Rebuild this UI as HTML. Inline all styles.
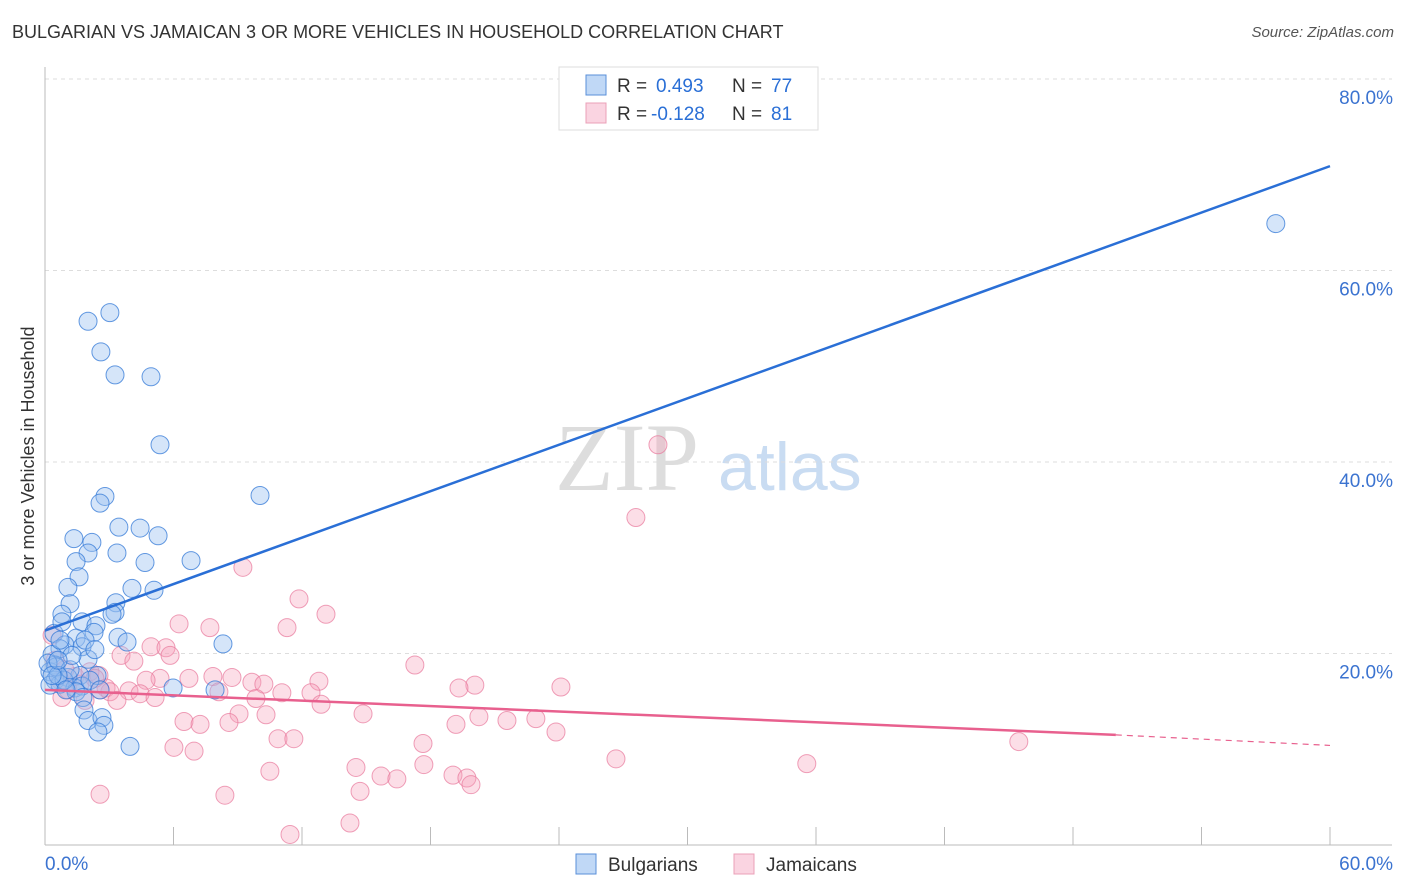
<!DOCTYPE html>
<html><head><meta charset="utf-8">
<style>
body{margin:0;background:#fff;font-family:"Liberation Sans",sans-serif;}
#wrap{position:relative;width:1406px;height:892px;overflow:hidden;}
.t{position:absolute;white-space:nowrap;}
</style></head>
<body>
<div id="wrap">
<div class="t" style="left:12px;top:22px;font-size:18px;color:#333;">BULGARIAN VS JAMAICAN 3 OR MORE VEHICLES IN HOUSEHOLD CORRELATION CHART</div>
<div class="t" style="right:12px;top:24px;font-size:15px;color:#555;font-style:italic;">Source: ZipAtlas.com</div>
<svg id="chart" width="1406" height="892" style="position:absolute;left:0;top:0"></svg>
</div>
<script>
const xTickLabels=["0.0%","60.0%"];
const yTickValues=[20,40,60,80];
const blueX=[3.03,2.01,2.61,3.27,4.95,5.37,10.04,2.80,2.57,3.45,4.44,5.28,1.35,2.19,3.36,2.01,4.67,6.82,1.45,1.59,1.07,4.06,5.09,1.17,3.31,3.27,0.79,3.13,1.73,2.38,0.42,2.29,3.41,1.45,0.93,3.83,8.31,0.70,1.73,2.01,0.33,0.47,0.23,2.43,1.63,1.07,0.47,0.70,1.40,1.73,5.98,7.94,1.45,1.77,0.23,0.51,0.14,1.82,2.01,2.66,2.75,2.47,3.97,57.47,0.89,1.17,0.61,0.98,2.10,1.26,1.87,0.79,2.57,0.33,0.70,2.33,0.61];
const blueY=[55.6,54.7,51.5,49.1,48.9,41.8,36.5,36.4,35.7,33.2,33.1,32.3,32.0,31.6,30.5,30.5,29.5,29.7,29.6,28.0,26.9,26.8,26.6,25.2,25.3,24.3,24.1,24.1,23.3,22.9,22.1,22.2,21.7,21.6,20.9,21.2,21.0,20.5,20.7,19.4,19.9,18.8,18.1,17.7,17.7,17.5,17.2,16.8,16.4,16.6,16.4,16.2,16.0,15.4,16.7,18.6,19.0,14.1,13.0,13.3,12.5,11.8,10.3,64.9,17.2,18.3,17.7,16.2,17.2,19.8,21.4,23.3,16.2,17.7,21.4,20.4,19.3];
const pinkX=[28.62,27.59,9.24,11.86,13.12,6.26,7.70,11.30,4.95,5.65,5.84,3.55,4.15,17.27,2.52,7.84,6.72,5.37,4.72,8.73,9.66,10.22,12.79,20.07,19.33,24.09,2.85,3.92,4.44,3.03,8.12,5.14,11.06,12.42,9.85,0.79,3.36,12.89,14.85,9.06,10.32,6.49,7.24,8.59,20.26,21.57,22.92,19.19,23.86,10.88,11.62,17.65,6.02,6.96,26.66,35.57,10.50,14.52,15.69,16.43,17.69,19.05,19.70,19.89,14.71,2.57,8.40,11.44,14.24,45.47,0.33,0.70,1.40,2.10,1.63,2.33,0.47,1.07,1.87,0.93,2.57];
const pinkY=[41.8,34.2,29.0,25.7,24.1,23.1,22.7,22.7,20.7,20.6,19.8,19.8,19.2,18.8,17.7,17.6,17.4,17.4,17.2,17.5,17.0,16.8,17.1,16.7,16.4,16.5,16.4,16.1,15.8,16.0,16.0,15.4,15.9,15.9,15.3,15.4,15.1,14.7,13.7,13.7,13.6,12.9,12.6,12.8,13.4,13.0,13.2,12.6,11.8,11.1,11.1,10.6,10.2,9.8,9.0,8.5,7.7,8.1,7.2,6.9,8.4,7.3,7.0,6.3,5.6,5.3,5.2,1.1,2.3,10.8,21.9,17.2,17.6,18.1,16.8,17.4,19.3,16.2,15.1,18.3,16.2];
const blueLine=[22.4,70.9];
const pinkLine=[16.2,11.5,10.4];

const NS="http://www.w3.org/2000/svg";
const svg=document.getElementById('chart');
const X0=45,X1=1330,Y0=845,PY=(845-79)/80;
const sx=v=>X0+v*(X1-X0)/60;
const sy=v=>Y0-v*PY;
function mk(t,a){const e=document.createElementNS(NS,t);for(const k in a)e.setAttribute(k,a[k]);svg.appendChild(e);return e;}
// watermark
let w=mk('text',{x:555,y:490,'font-size':96,fill:'#ddd','font-family':'Liberation Serif, serif'});w.textContent='ZIP';


w=mk('text',{x:718,y:490,'font-size':68,fill:'#c9dcf2','font-family':'Liberation Sans, sans-serif'});w.textContent='atlas';


// gridlines & y labels
yTickValues.forEach(v=>{
 let g=mk('line',{x1:X0,x2:1392,y1:sy(v),y2:sy(v),stroke:'#ddd','stroke-dasharray':'4,4'});
 
 
 let t=mk('text',{x:1393,y:sy(v)+25,'text-anchor':'end','font-size':19,fill:'#3b73d0'});t.textContent=v.toFixed(1)+'%';
 
 
});
let gt=mk('line',{x1:X0,x2:1392,y1:79,y2:79,stroke:'#ddd','stroke-dasharray':'4,4'});


// axes
let ax=mk('line',{x1:X0,x2:1392,y1:Y0,y2:Y0,stroke:'#bbb'});


ax=mk('line',{x1:X0,x2:X0,y1:67,y2:Y0,stroke:'#bbb'});


for(let i=0;i<=10;i++){let tk=mk('line',{x1:sx(i*6),x2:sx(i*6),y1:Y0,y2:Y0-18,stroke:'#bbb'});
 
 }
let xl=mk('text',{x:45,y:870,'font-size':19,fill:'#3b73d0'});xl.textContent=xTickLabels[0];


xl=mk('text',{x:1393,y:870,'font-size':19,fill:'#3b73d0','text-anchor':'end'});xl.textContent=xTickLabels[1];


let yt=mk('text',{x:34,y:456,'font-size':18,fill:'#333','text-anchor':'middle',transform:'rotate(-90 34 456)'});yt.textContent='3 or more Vehicles in Household';


// points
pinkX.forEach((x,i)=>{let c=mk('circle',{cx:sx(x),cy:sy(pinkY[i]),r:9,fill:'rgba(245,160,185,0.35)',stroke:'rgba(232,120,155,0.7)','stroke-width':1});
 
 });
blueX.forEach((x,i)=>{let c=mk('circle',{cx:sx(x),cy:sy(blueY[i]),r:9,fill:'rgba(150,190,240,0.4)',stroke:'rgba(50,120,215,0.75)','stroke-width':1});
 
 });
// trend lines
let l=mk('line',{x1:sx(0),y1:sy(blueLine[0]),x2:sx(60),y2:sy(blueLine[1]),stroke:'#2a6fd6','stroke-width':2.5});


l=mk('line',{x1:sx(0),y1:sy(pinkLine[0]),x2:sx(50),y2:sy(pinkLine[1]),stroke:'#e8608e','stroke-width':2.5});


l=mk('line',{x1:sx(50),y1:sy(pinkLine[1]),x2:sx(60),y2:sy(pinkLine[2]),stroke:'#e8608e','stroke-width':1.2,'stroke-dasharray':'6,5'});


// legend box
let lb=mk('rect',{x:559,y:67,width:259,height:63,fill:'#fff',stroke:'#ddd'});


[[0,'rgba(150,190,240,0.6)','#5a8fd8','0.493','77'],[1,'rgba(245,170,195,0.5)','#eba0b8','-0.128','81']].forEach(r=>{
 const y=85+r[0]*28;
 let s=mk('rect',{x:586,y:y-10,width:20,height:20,fill:r[1],stroke:r[2]});
 
 
 let t=mk('text',{x:617,y:y+7,'font-size':19,fill:'#333'});t.innerHTML='R = <tspan fill="#2a6fd6" x="'+(r[0]?651:656)+'">'+r[3]+'</tspan><tspan fill="#333" x="732">N = </tspan><tspan fill="#2a6fd6" x="771">'+r[4]+'</tspan>';
 
 
});
// bottom legend
[[576,'rgba(150,190,240,0.6)','#5a8fd8','Bulgarians'],[734,'rgba(245,170,195,0.5)','#eba0b8','Jamaicans']].forEach(r=>{
 let s=mk('rect',{x:r[0],y:854,width:20,height:20,fill:r[1],stroke:r[2]});
 
 
 let t=mk('text',{x:r[0]+32,y:871,'font-size':19,fill:'#333'});t.textContent=r[3];
 
 
});
</script>
</body></html>
